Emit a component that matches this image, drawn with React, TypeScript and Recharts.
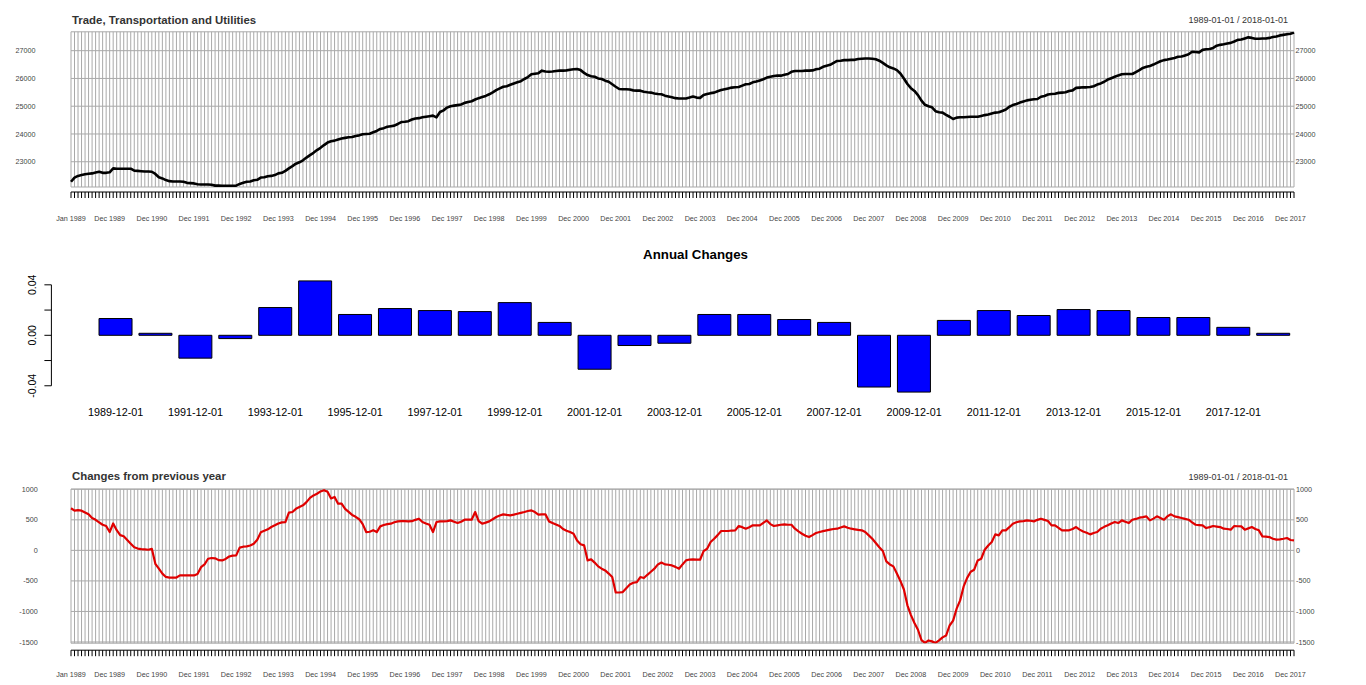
import React from 'react';
import { LineChart, Line, BarChart, Bar, XAxis, YAxis, CartesianGrid, ReferenceLine } from 'recharts';

const FONT = '"Liberation Sans", Arial, sans-serif';
const MONTH_ABBR = ['Jan', 'Feb', 'Mar', 'Apr', 'May', 'Jun', 'Jul', 'Aug', 'Sep', 'Oct', 'Nov', 'Dec'];
const FIRST_YEAR = 1989;

// Monthly employment level, Jan 1989 .. Jan 2018 (thousands)
const tradeEmployment: number[] = [
  22280, 22430, 22490, 22520, 22550, 22570, 22580, 22610, 22640, 22600, 22600, 22620, // 1989
  22760, 22750, 22750, 22750, 22750, 22750, 22680, 22670, 22660, 22650, 22650, 22640, // 1990
  22560, 22440, 22400, 22340, 22300, 22290, 22290, 22290, 22280, 22240, 22230, 22220, // 1991
  22190, 22180, 22180, 22180, 22170, 22140, 22140, 22130, 22130, 22130, 22135, 22140, // 1992
  22200, 22240, 22280, 22290, 22330, 22350, 22430, 22440, 22480, 22490, 22520, 22580, // 1993
  22600, 22670, 22760, 22840, 22930, 22980, 23050, 23150, 23240, 23320, 23420, 23500, // 1994
  23600, 23690, 23740, 23760, 23800, 23840, 23860, 23880, 23890, 23930, 23950, 23990, // 1995
  24000, 24010, 24060, 24110, 24180, 24210, 24260, 24280, 24300, 24360, 24430, 24440, // 1996
  24460, 24520, 24560, 24570, 24600, 24620, 24640, 24660, 24600, 24790, 24850, 24950, // 1997
  25000, 25020, 25040, 25060, 25120, 25150, 25180, 25240, 25290, 25330, 25370, 25430, // 1998
  25500, 25580, 25640, 25700, 25720, 25770, 25820, 25860, 25900, 25980, 26050, 26150, // 1999
  26170, 26190, 26280, 26250, 26240, 26250, 26270, 26280, 26280, 26290, 26310, 26330, // 2000
  26340, 26300, 26200, 26120, 26080, 26060, 26000, 25980, 25920, 25880, 25790, 25700, // 2001
  25620, 25610, 25610, 25600, 25570, 25560, 25560, 25520, 25500, 25490, 25460, 25440, // 2002
  25430, 25380, 25350, 25320, 25290, 25280, 25280, 25280, 25310, 25350, 25310, 25300, // 2003
  25400, 25440, 25470, 25490, 25540, 25580, 25610, 25640, 25670, 25680, 25690, 25740, // 2004
  25790, 25800, 25860, 25890, 25930, 25970, 26030, 26060, 26090, 26100, 26100, 26130, // 2005
  26160, 26240, 26270, 26270, 26270, 26280, 26280, 26290, 26330, 26350, 26420, 26460, // 2006
  26490, 26560, 26630, 26640, 26660, 26660, 26670, 26670, 26700, 26710, 26720, 26720, // 2007
  26710, 26690, 26640, 26560, 26470, 26400, 26360, 26300, 26180, 26000, 25800, 25650, // 2008
  25550, 25400, 25200, 25050, 25000, 24960, 24820, 24780, 24770, 24690, 24620, 24540, // 2009
  24590, 24600, 24600, 24610, 24620, 24620, 24620, 24650, 24680, 24700, 24740, 24770, // 2010
  24780, 24830, 24880, 24980, 25040, 25080, 25130, 25170, 25210, 25230, 25250, 25260, // 2011
  25340, 25370, 25420, 25440, 25450, 25480, 25490, 25500, 25550, 25570, 25660, 25670, // 2012
  25680, 25680, 25690, 25720, 25780, 25820, 25880, 25960, 26010, 26060, 26110, 26150, // 2013
  26160, 26160, 26160, 26230, 26300, 26380, 26420, 26450, 26500, 26560, 26620, 26660, // 2014
  26680, 26710, 26740, 26780, 26790, 26830, 26870, 26960, 26950, 26940, 27030, 27050, // 2015
  27060, 27100, 27180, 27210, 27230, 27260, 27280, 27330, 27390, 27400, 27440, 27480, // 2016
  27460, 27430, 27430, 27440, 27440, 27460, 27490, 27510, 27550, 27570, 27590, 27610, // 2017
  27650, // 2018
];

// Change from the same month of the previous year
const yearOverYearChange: number[] = [
  690, 650, 660, 650, 620, 590, 530, 500, 460, 420, 400, 300, // 1989
  440, 330, 250, 230, 170, 110, 50, 30, 20, 15, 10, 25, // 1990
  -220, -300, -380, -435, -445, -445, -445, -410, -410, -410, -410, -410, // 1991
  -385, -275, -230, -137, -125, -130, -160, -165, -140, -100, -85, -82, // 1992
  45, 60, 66, 80, 109, 175, 295, 320, 345, 382, 410, 440, // 1993
  459, 464, 617, 628, 680, 710, 737, 790, 860, 900, 928, 965, // 1994
  985, 960, 850, 874, 764, 764, 680, 630, 580, 550, 510, 430, // 1995
  300, 305, 330, 300, 393, 415, 430, 437, 460, 475, 480, 478, // 1996
  475, 478, 500, 519, 464, 440, 420, 300, 464, 475, 475, 478, // 1997
  491, 470, 448, 470, 502, 502, 502, 628, 480, 437, 455, 475, // 1998
  510, 546, 570, 590, 580, 573, 585, 600, 615, 628, 645, 655, // 1999
  628, 584, 590, 590, 475, 450, 425, 400, 350, 320, 300, 273, // 2000
  160, 100, 82, -164, -147, -200, -262, -300, -328, -380, -437, -690, // 2001
  -690, -683, -620, -560, -530, -519, -437, -453, -400, -350, -300, -230, // 2002
  -200, -229, -235, -246, -270, -300, -230, -164, -150, -147, -150, -153, // 2003
  -11, 27, 137, 191, 250, 317, 317, 317, 325, 328, 399, 380, // 2004
  355, 380, 410, 410, 410, 450, 491, 430, 399, 410, 420, 426, // 2005
  420, 420, 355, 310, 273, 240, 218, 250, 284, 300, 315, 328, // 2006
  340, 350, 355, 375, 393, 370, 355, 345, 335, 328, 300, 246, // 2007
  190, 120, 50, -10, -180, -230, -262, -380, -500, -640, -900, -1060, // 2008
  -1190, -1300, -1470, -1515, -1475, -1490, -1515, -1475, -1425, -1395, -1230, -1150, // 2009
  -955, -819, -590, -450, -350, -317, -164, -137, 11, 80, 137, 262, // 2010
  246, 328, 328, 380, 437, 460, 475, 480, 491, 485, 475, 500, // 2011
  519, 500, 480, 410, 410, 370, 328, 328, 328, 350, 382, 340, // 2012
  310, 290, 262, 285, 300, 355, 385, 410, 440, 464, 448, 491, // 2013
  470, 448, 502, 515, 535, 545, 557, 491, 520, 557, 530, 502, // 2014
  560, 590, 557, 545, 530, 515, 502, 460, 420, 415, 410, 366, // 2015
  380, 399, 390, 382, 355, 350, 339, 399, 395, 393, 339, 360, // 2016
  382, 350, 328, 229, 225, 218, 190, 175, 180, 190, 202, 170, // 2017
  164, // 2018
];

const levelTicks = [23000, 24000, 25000, 26000, 27000];
const changeTicks = [-1500, -1000, -500, 0, 500, 1000];

const annualDates = [
  '1989-12-01', '1990-12-01', '1991-12-01', '1992-12-01', '1993-12-01', '1994-12-01',
  '1995-12-01', '1996-12-01', '1997-12-01', '1998-12-01', '1999-12-01', '2000-12-01',
  '2001-12-01', '2002-12-01', '2003-12-01', '2004-12-01', '2005-12-01', '2006-12-01',
  '2007-12-01', '2008-12-01', '2009-12-01', '2010-12-01', '2011-12-01', '2012-12-01',
  '2013-12-01', '2014-12-01', '2015-12-01', '2016-12-01', '2017-12-01', '2018-01-01',
];
const annualChanges = [
  0.0133, 0.0016, -0.0181, -0.0026, 0.022, 0.0431,
  0.0165, 0.0212, 0.0196, 0.0188, 0.0259, 0.0102,
  -0.0269, -0.0081, -0.0063, 0.0165, 0.0165, 0.0125,
  0.0102, -0.041, -0.045, 0.0118, 0.0196, 0.0157,
  0.0204, 0.0196, 0.0141, 0.0141, 0.0063, 0.0016,
];
const annualTicks = [-0.04, -0.02, 0, 0.02, 0.04];
const annualLabelledTicks = ['-0.04', '0.00', '0.04'];

const monthLabels = tradeEmployment.map(
  (_, i) => `${MONTH_ABBR[i % 12]} ${FIRST_YEAR + Math.floor(i / 12)}`
);
const monthlyData = monthLabels.map((m, i) => ({
  month: m,
  level: tradeEmployment[i],
  change: yearOverYearChange[i],
}));
const annualData = annualDates.map((d, i) => ({ date: d, change: annualChanges[i] }));

const GRID = '#a9a9a9';
const LABEL = '#444';

function MonthTick(props: any) {
  const { x, y, payload, lineGap, labelGap } = props;
  const v = String(payload.value);
  const show = v === monthLabels[0] || v.startsWith('Dec');
  return (
    <g>
      <line x1={x} x2={x} y1={y + lineGap} y2={y + lineGap + 6} stroke="#000" strokeWidth={1} />
      {show && (
        <text x={x} y={y + labelGap} dy="0.355em" textAnchor="middle" fontSize={7.2} fill={LABEL} fontFamily={FONT}>
          {v}
        </text>
      )}
    </g>
  );
}

function RotatedTick(props: any) {
  const { x, y, payload } = props;
  const label = Number(payload.value).toFixed(2);
  if (!annualLabelledTicks.includes(label)) return <g />;
  return (
    <text
      x={x}
      y={y}
      transform={`rotate(-90 ${x} ${y})`}
      textAnchor="middle"
      dy="0.355em"
      fontSize={10.5}
      fill="#000"
      fontFamily={FONT}
    >
      {label}
    </text>
  );
}

const yTick = { fontSize: 7.2, fill: LABEL, fontFamily: FONT };

export default function App() {
  return (
    <div style={{ position: 'absolute', left: 0, top: 0, width: 1366, height: 685, background: '#fff', overflow: 'hidden' }}>
      {/* Top panel */}
      <div style={{ position: 'absolute', left: 0, top: 0 }}>
        <LineChart width={1366} height={230} data={monthlyData} margin={{ top: 31.8, right: 32, bottom: 3, left: 31 }}>
          <CartesianGrid stroke={GRID} strokeWidth={1} />
          <XAxis
            dataKey="month"
            interval={0}
            height={40}
            tickSize={0}
            tickMargin={0}
            tickLine={false}
            axisLine={{ stroke: '#000', strokeWidth: 1, transform: 'translate(0,5)' }}
            tick={<MonthTick lineGap={5} labelGap={31} />}
          />
          <YAxis
            domain={[22090, 27680]}
            allowDataOverflow
            ticks={levelTicks}
            width={40}
            tickSize={0}
            tickMargin={35.5}
            axisLine={false}
            tickLine={false}
            tick={yTick}
          />
          <YAxis
            yAxisId="right"
            orientation="right"
            domain={[22090, 27680]}
            allowDataOverflow
            ticks={levelTicks}
            width={40}
            tickSize={0}
            tickMargin={1.5}
            axisLine={false}
            tickLine={false}
            tick={yTick}
          />
          <Line type="linear" dataKey="level" stroke="#000" strokeWidth={2.6} dot={false} isAnimationActive={false} strokeLinejoin="round" />
        </LineChart>
      </div>

      {/* Middle panel: annual changes */}
      <div style={{ position: 'absolute', left: 0, top: 240 }}>
        <BarChart
          width={1366}
          height={180}
          data={annualData}
          margin={{ top: 36.5, right: 28.4, bottom: 3.5, left: 11.4 }}
          barCategoryGap="8.33%"
        >
          <XAxis
            dataKey="date"
            interval={1}
            padding={{ left: 44.3, right: 44.3 }}
            axisLine={false}
            tickLine={false}
            tickSize={0}
            tickMargin={12.2}
            height={20}
            tick={{ fontSize: 10.8, fill: '#000', fontFamily: FONT }}
          />
          <XAxis xAxisId="edge" type="number" domain={[0, 1]} hide />
          <YAxis
            domain={[-0.0485, 0.0466]}
            allowDataOverflow
            ticks={annualTicks}
            interval={0}
            width={40}
            tickSize={7}
            tickMargin={12.4}
            axisLine={false}
            tickLine={{ stroke: '#000', strokeWidth: 1 }}
            tick={<RotatedTick />}
          />
          <ReferenceLine
            xAxisId="edge"
            segment={[{ x: 0, y: -0.04 }, { x: 0, y: 0.04 }]}
            stroke="#000"
            strokeWidth={1}
            ifOverflow="visible"
          />
          <Bar dataKey="change" fill="#0000ff" stroke="#000" strokeWidth={1} isAnimationActive={false} />
        </BarChart>
      </div>

      {/* Bottom panel */}
      <div style={{ position: 'absolute', left: 0, top: 440 }}>
        <LineChart width={1366} height={245} data={monthlyData} margin={{ top: 49, right: 32, bottom: 1.8, left: 31 }}>
          <CartesianGrid stroke={GRID} strokeWidth={1} />
          <XAxis
            dataKey="month"
            interval={0}
            height={40}
            tickSize={0}
            tickMargin={0}
            tickLine={false}
            axisLine={{ stroke: '#000', strokeWidth: 1, transform: 'translate(0,7)' }}
            tick={<MonthTick lineGap={7} labelGap={31} />}
          />
          <YAxis
            domain={[-1520, 1005]}
            allowDataOverflow
            ticks={changeTicks}
            width={40}
            tickSize={0}
            tickMargin={33.3}
            axisLine={false}
            tickLine={false}
            tick={yTick}
          />
          <YAxis
            yAxisId="right"
            orientation="right"
            domain={[-1520, 1005]}
            allowDataOverflow
            ticks={changeTicks}
            width={40}
            tickSize={0}
            tickMargin={2}
            axisLine={false}
            tickLine={false}
            tick={yTick}
          />
          <Line type="linear" dataKey="change" stroke="#e00000" strokeWidth={2.2} dot={false} isAnimationActive={false} strokeLinejoin="round" />
        </LineChart>
      </div>

      {/* Titles */}
      <svg width={1366} height={685} style={{ position: 'absolute', left: 0, top: 0, pointerEvents: 'none' }}>
        <text x={72} y={23.5} fontSize={11.4} fontWeight="bold" fill="#333" fontFamily={FONT}>
          Trade, Transportation and Utilities
        </text>
        <text x={1288} y={23} fontSize={9} textAnchor="end" fill="#333" fontFamily={FONT}>
          1989-01-01 / 2018-01-01
        </text>
        <text x={695.5} y={258.5} fontSize={13.3} fontWeight="bold" textAnchor="middle" fill="#000" fontFamily={FONT}>
          Annual Changes
        </text>
        <text x={72} y={479.5} fontSize={11.4} fontWeight="bold" fill="#333" fontFamily={FONT}>
          Changes from previous year
        </text>
        <text x={1288} y={480} fontSize={9} textAnchor="end" fill="#333" fontFamily={FONT}>
          1989-01-01 / 2018-01-01
        </text>
      </svg>
    </div>
  );
}
